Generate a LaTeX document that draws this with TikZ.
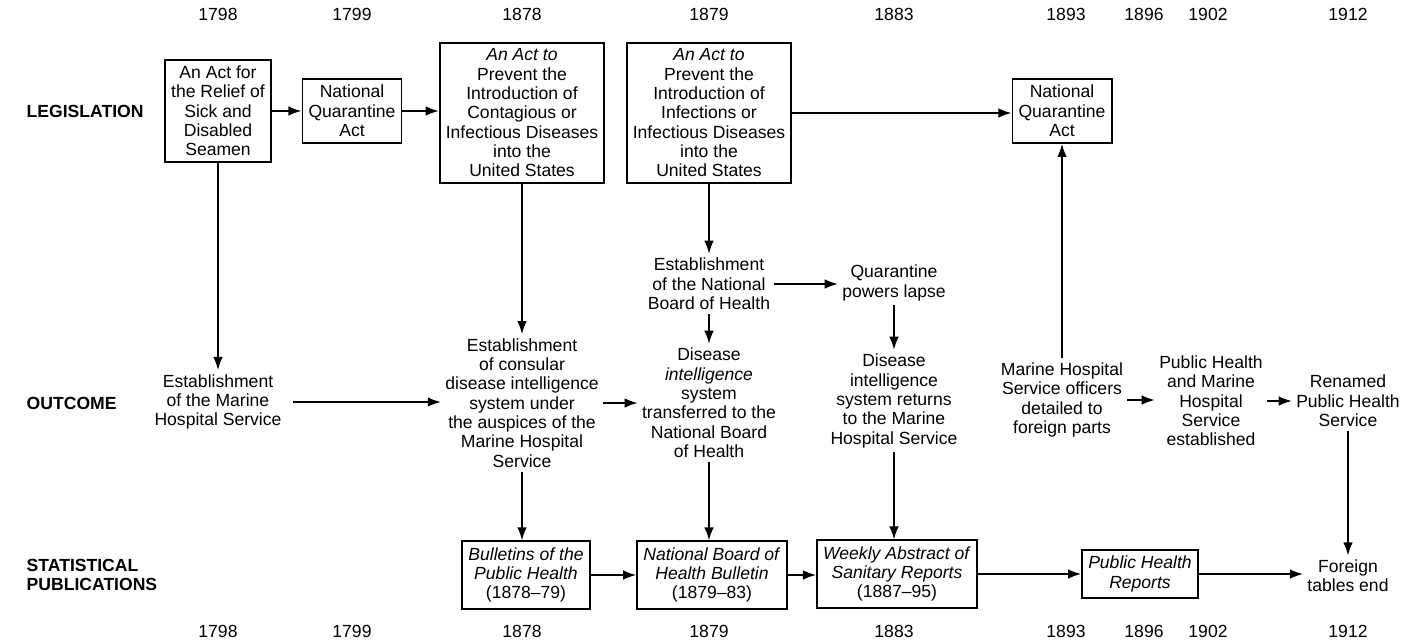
\documentclass[tikz,border=0pt]{standalone}
\usepackage{fontspec}
\setmainfont{Liberation Sans}
\usepackage{tikz}
\usetikzlibrary{arrows.meta}

\begin{document}
\begin{tikzpicture}[x=0.02cm, y=-0.02cm, line width=1pt,
   every node/.style={font=\fontsize{10}{11}\selectfont, align=center},
   actbox/.style={draw, inner sep=3.5pt},
   pubbox/.style={draw, inner sep=3.5pt},
   outtext/.style={inner sep=2pt},
   rowlabel/.style={font=\fontsize{10}{11}\selectfont\bfseries, align=left, anchor=west},
   link/.style={-{Latex[length=7.5pt,width=5.5pt]}}]

   \useasboundingbox (0,0) rectangle (1413,643);

   % years, top and bottom
   \foreach \yr/\px in {1798/218, 1799/352, 1878/522, 1879/709, 1883/894, 1893/1066, 1896/1144, 1902/1208, 1912/1348} {
      \node (top\yr) at (\px,14) {\yr};
      \node (bot\yr) at (\px,631) {\yr};
   }

   \node[rowlabel] (legis) at (20,111) {LEGISLATION};
   \node[rowlabel] (outcome) at (20,403) {OUTCOME};
   \node[rowlabel] (statpub) at (20,575) {STATISTICAL\\PUBLICATIONS};

   % legislation
   \node[actbox] (seamen) at (218,111) {An Act for\\the Relief of\\Sick and\\Disabled\\Seamen};
   \node[actbox] (nqaA) at (352,111) {National\\Quarantine\\Act};
   \node[actbox] (actA) at (522,113) {\textit{An Act to}\\Prevent the\\Introduction of\\Contagious or\\Infectious Diseases\\into the\\United States};
   \node[actbox] (actB) at (709,113) {\textit{An Act to}\\Prevent the\\Introduction of\\Infections or\\Infectious Diseases\\into the\\United States};
   \node[actbox] (nqaB) at (1062,111) {National\\Quarantine\\Act};

   % outcome
   \node[outtext] (mhs) at (218,402) {Establishment\\of the Marine\\Hospital Service};
   \node[outtext] (consular) at (522,403) {Establishment\\of consular\\disease intelligence\\system under\\the auspices of the\\Marine Hospital\\Service};
   \node[outtext] (nbh) at (709,284) {Establishment\\of the National\\Board of Health};
   \node[outtext] (lapse) at (894,283) {Quarantine\\powers lapse};
   \node[outtext] (transfer) at (709,403) {Disease\\\textit{intelligence}\\system\\transferred to the\\National Board\\of Health};
   \node[outtext] (returns) at (894,401) {Disease\\intelligence\\system returns\\to the Marine\\Hospital Service};
   \node[outtext] (officers) at (1062,400) {Marine Hospital\\Service officers\\detailed to\\foreign parts};
   \node[outtext] (phmhs) at (1211,401) {Public Health\\and Marine\\Hospital\\Service\\established};
   \node[outtext] (renamed) at (1348,401) {Renamed\\Public Health\\Service};

   % statistical publications
   \node[pubbox] (bulletins) at (526,575) {\textit{Bulletins of the}\\\textit{Public Health}\\(1878--79)};
   \node[pubbox] (nbhb) at (712,575) {\textit{National Board of}\\\textit{Health Bulletin}\\(1879--83)};
   \node[pubbox] (weekly) at (897,574) {\textit{Weekly Abstract of}\\\textit{Sanitary Reports}\\(1887--95)};
   \node[pubbox] (phr) at (1140,574) {\textit{Public Health}\\\textit{Reports}};
   \node[outtext] (foreign) at (1348,576) {Foreign\\tables end};

   \draw[link] (seamen) -- (seamen -| nqaA.west);
   \draw[link] (nqaA) -- (nqaA -| actA.west);
   \draw[link] (actB) -- (actB -| nqaB.west);
   \draw[link] (seamen) -- (mhs);
   \draw[link] (actA.south) -- (actA.south |- consular.north);
   \draw[link] (actB.south) -- (actB.south |- nbh.north);
   \draw[link, shorten <=4pt] (mhs.east) -- (mhs.east -| consular.west);
   \draw[link] (consular.east) -- (consular.east -| transfer.west);
   \draw[link] (nbh) -- (nbh -| lapse.west);
   \draw[link] (nbh) -- (transfer);
   \draw[link] (lapse) -- (returns);
   \draw[link] (officers) -- (nqaB);
   \draw[link] (officers.east) -- (officers.east -| phmhs.west);
   \draw[link] (phmhs.east) -- (phmhs.east -| renamed.west);
   \draw[link] (consular.south) -- (consular.south |- bulletins.north);
   \draw[link] (transfer.south) -- (transfer.south |- nbhb.north);
   \draw[link] (returns.south) -- (returns.south |- weekly.north);
   \draw[link] (renamed) -- (foreign);
   \draw[link] (bulletins) -- (bulletins -| nbhb.west);
   \draw[link] (nbhb) -- (nbhb -| weekly.west);
   \draw[link] (weekly) -- (weekly -| phr.west);
   \draw[link] (phr) -- (phr -| foreign.west);
\end{tikzpicture}
\end{document}
